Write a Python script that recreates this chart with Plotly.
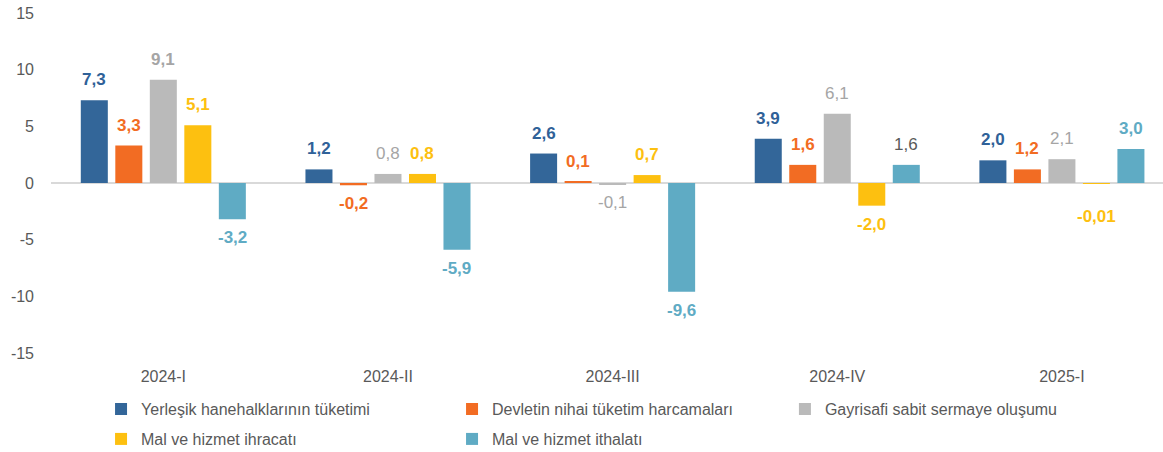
import plotly.graph_objects as go

# ---- data ----
quarters = ["2024-I", "2024-II", "2024-III", "2024-IV", "2025-I"]
series_names = [
    "Yerleşik hanehalklarının tüketimi",
    "Devletin nihai tüketim harcamaları",
    "Gayrisafi sabit sermaye oluşumu",
    "Mal ve hizmet ihracatı",
    "Mal ve hizmet ithalatı",
]
households = [7.3, 1.2, 2.6, 3.9, 2.0]
government = [3.3, -0.2, 0.1, 1.6, 1.2]
investment = [9.1, 0.8, -0.1, 6.1, 2.1]
exports = [5.1, 0.8, 0.7, -2.0, -0.01]
imports = [-3.2, -5.9, -9.6, 1.6, 3.0]
y_ticks = [-15, -10, -5, 0, 5, 10, 15]

# ---- style ----
bar_colors = ["#336699", "#F26C23", "#BABABA", "#FDC010", "#5FABC4"]
label_colors = ["#2F6198", "#F26C23", "#A5A5A5", "#FDC010", "#5FABC4"]
# which legend box each series goes to (rows of the legend)
legend_ids = ["legend", "legend", "legend2", "legend3", "legend3"]
# labels printed in regular weight (series index, quarter index)
regular_labels = {(2, 1), (2, 2), (2, 3), (2, 4), (4, 3)}
dark_labels = {(4, 3)}
font_family = "Liberation Sans, Arial, sans-serif"
axis_grey = "#595959"
pitch_px = 34.5  # distance between bar centres inside a group


def fmt(v):
    if v != 0 and abs(v) < 0.05:
        return f"{v:.2f}".replace(".", ",")
    return f"{v:.1f}".replace(".", ",")


all_values = [households, government, investment, exports, imports]

fig = go.Figure()
for s, (name, vals) in enumerate(zip(series_names, all_values)):
    fig.add_trace(go.Bar(
        x=quarters, y=vals, name=name, legend=legend_ids[s],
        marker=dict(color=bar_colors[s], line=dict(width=0)),
        hoverinfo="x+y+name",
    ))

annotations = []
for s, vals in enumerate(all_values):
    for q, v in enumerate(vals):
        bold = (s, q) not in regular_labels
        color = "#595959" if (s, q) in dark_labels else label_colors[s]
        extra = 15 if (v < 0 and abs(v) < 0.05) else 0
        annotations.append(dict(
            x=quarters[q], y=v, xref="x", yref="y",
            text=fmt(v), showarrow=False,
            xshift=(s - 2) * pitch_px,
            yshift=(9 if v >= 0 else -7 - extra),
            yanchor="bottom" if v >= 0 else "top",
            font=dict(family=font_family, size=17, color=color,
                      weight="bold" if bold else "normal"),
        ))

legend_style = dict(
    orientation="h", xanchor="left", yanchor="top",
    entrywidth=306, entrywidthmode="pixels",
    font=dict(family=font_family, size=16, color=axis_grey),
    itemclick=False, itemdoubleclick=False, bgcolor="rgba(0,0,0,0)",
)

fig.update_layout(
    width=1163, height=452,
    margin=dict(l=51, r=0, t=13, b=99, autoexpand=False),
    paper_bgcolor="white", plot_bgcolor="white",
    barmode="group", bargap=0.232, bargroupgap=0.217,
    font=dict(family=font_family, size=16, color=axis_grey),
    annotations=annotations,
    showlegend=True,
    legend=dict(x=0.045, y=-0.115, **legend_style),
    legend2=dict(x=0.660, y=-0.115, **legend_style),
    legend3=dict(x=0.045, y=-0.203, **legend_style),
)
fig.update_xaxes(
    range=[-0.5, 4.45], showgrid=False, showline=False, zeroline=False,
    ticks="", ticklabelstandoff=12,
    tickfont=dict(family=font_family, size=16, color=axis_grey),
)
fig.update_yaxes(
    range=[-15, 15], tickmode="array", tickvals=y_ticks,
    ticktext=[str(t) for t in y_ticks], ticklabeloverflow="allow",
    showgrid=False, showline=False, zeroline=True, zerolinecolor="#D9D9D9",
    zerolinewidth=2, ticks="", ticklabelstandoff=16,
    tickfont=dict(family=font_family, size=16, color=axis_grey),
)

# drop the browser's default 8px body margin so the figure fills the window
fig.write_html("out.html", config={"displayModeBar": False},
               post_script="document.body.style.margin='0';")
